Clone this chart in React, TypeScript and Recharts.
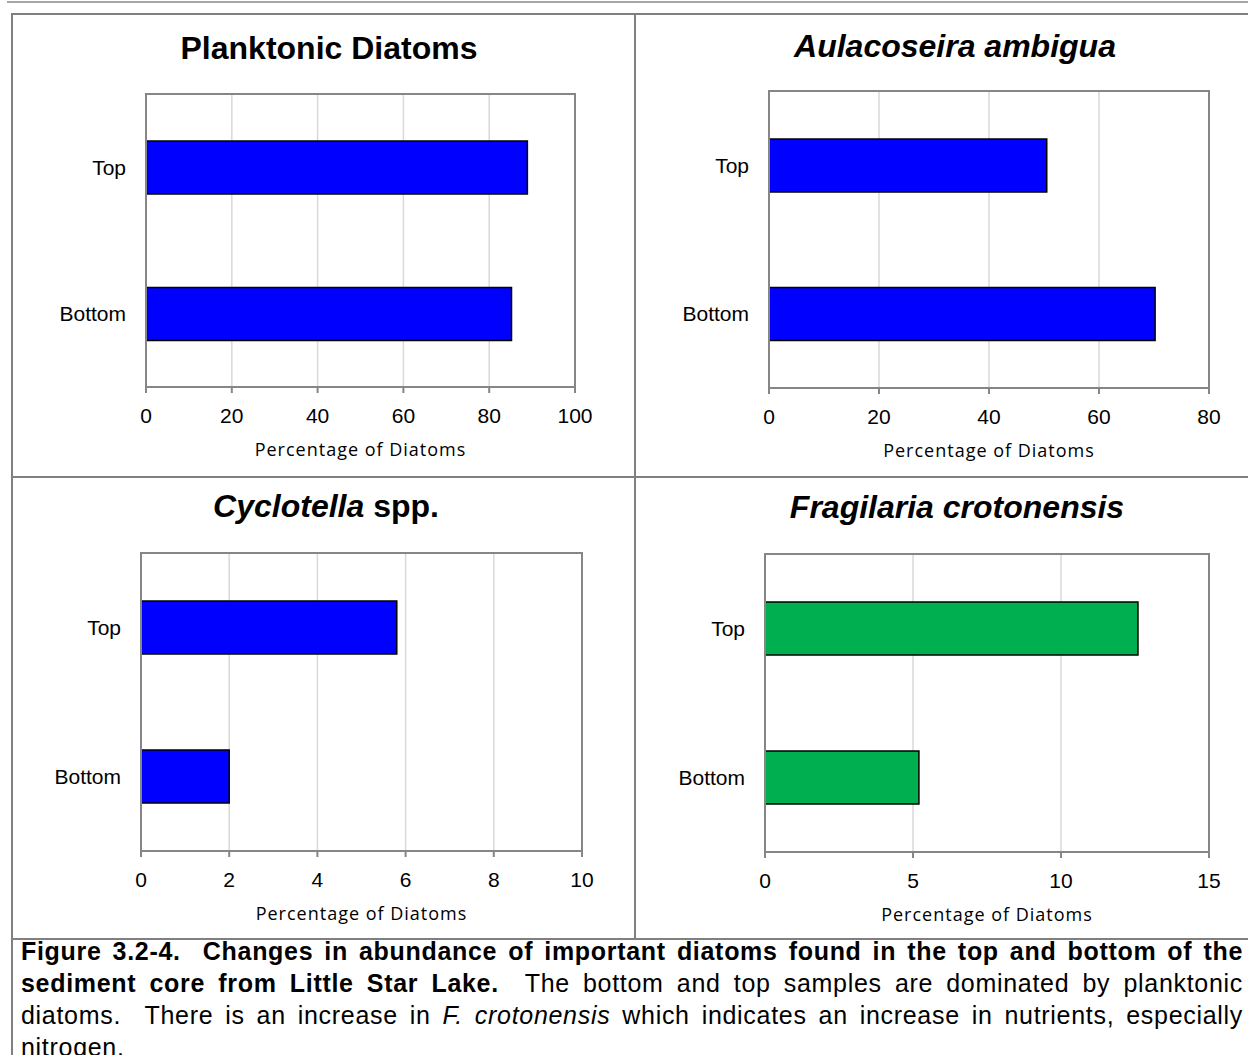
import React from 'react';
import { BarChart, Bar, XAxis, YAxis, CartesianGrid, ReferenceArea } from 'recharts';

const categories = ['Top', 'Bottom'];

const planktonicValues = [88.9, 85.2];
const aulacoseiraValues = [50.5, 70.2];
const cyclotellaValues = [5.8, 2.0];
const fragilariaValues = [12.6, 5.2];

const planktonicTicks = [0, 20, 40, 60, 80, 100];
const aulacoseiraTicks = [0, 20, 40, 60, 80];
const cyclotellaTicks = [0, 2, 4, 6, 8, 10];
const fragilariaTicks = [0, 5, 10, 15];

const axisLabel = 'Percentage of Diatoms';

const ARIAL = '"Liberation Sans", Arial, sans-serif';
const CALIBRI = '"Open Sans", Lato, sans-serif';
const AXIS_GRAY = '#868686';
const GRID_GRAY = '#d9d9d9';
const BORDER = '#808080';

const Y_W = 100;
const X_H = 80;

interface Box { l: number; t: number; r: number; b: number }

interface PanelProps {
  cell: Box;
  plot: Box;
  values: number[];
  ticks: number[];
  color: string;
  title: React.ReactNode;
  titleX: number;
  titleY: number;
}

const Panel: React.FC<PanelProps> = ({ cell, plot, values, ticks, color, title, titleX, titleY }) => {
  const data = categories.map((cat, i) => ({ cat, value: values[i] }));
  const domain: [number, number] = [ticks[0], ticks[ticks.length - 1]];
  const width = cell.r - cell.l;
  const height = cell.b - cell.t;
  const margin = {
    top: plot.t - cell.t,
    right: cell.r - plot.r,
    bottom: cell.b - plot.b - X_H,
    left: plot.l - cell.l - Y_W,
  };
  return (
    <>
      <div style={{ position: 'absolute', left: cell.l, top: cell.t, width, height }}>
        <BarChart width={width} height={height} data={data} layout="vertical" margin={margin}>
          <CartesianGrid horizontal={false} stroke={GRID_GRAY} strokeWidth={1.5} />
          <XAxis
            type="number"
            domain={domain}
            ticks={ticks}
            interval={0}
            height={X_H}
            axisLine={{ stroke: AXIS_GRAY, strokeWidth: 2 }}
            tickLine={{ stroke: AXIS_GRAY, strokeWidth: 2 }}
            tickSize={6}
            tickMargin={15}
            tick={{ fill: '#000', fontSize: 21, fontFamily: ARIAL }}
            label={{
              value: axisLabel,
              position: 'insideBottom',
              offset: 11,
              fill: '#000',
              fontSize: 18,
              fontFamily: CALIBRI,
              letterSpacing: 1,
            }}
          />
          <YAxis
            type="category"
            dataKey="cat"
            width={Y_W}
            tickLine={false}
            tickSize={6}
            tickMargin={14}
            axisLine={{ stroke: AXIS_GRAY, strokeWidth: 2 }}
            tick={{ fill: '#000', fontSize: 21, fontFamily: ARIAL }}
          />
          <ReferenceArea
            x1={domain[0]}
            x2={domain[1]}
            y1={categories[0]}
            y2={categories[categories.length - 1]}
            fill="none"
            fillOpacity={0}
            stroke={AXIS_GRAY}
            strokeWidth={2}
            ifOverflow="visible"
          />
          <Bar dataKey="value" fill={color} stroke="#000" strokeWidth={1.5} barSize={53} isAnimationActive={false} />
        </BarChart>
      </div>
      <div
        style={{
          position: 'absolute',
          left: titleX - 300,
          width: 600,
          top: titleY - 20,
          height: 40,
          lineHeight: '40px',
          textAlign: 'center',
          fontFamily: ARIAL,
          fontWeight: 'bold',
          fontSize: 32,
          color: '#000',
          whiteSpace: 'nowrap',
        }}
      >
        {title}
      </div>
    </>
  );
};

const line = (l: number, t: number, w: number, h: number, c: string) => (
  <div style={{ position: 'absolute', left: l, top: t, width: w, height: h, background: c }} />
);

const justified: React.CSSProperties = { textAlign: 'justify', textAlignLast: 'justify', whiteSpace: 'nowrap' };

export default function App() {
  return (
    <div
      style={{
        position: 'absolute',
        left: 0,
        top: 0,
        width: 1248,
        height: 1055,
        background: '#fff',
        overflow: 'hidden',
      }}
    >
      {line(7, 1, 1241, 2, '#a6a6a6')}
      {line(11, 13, 1237, 2, BORDER)}
      {line(11, 13, 2, 1042, BORDER)}
      {line(634, 13, 2, 926, BORDER)}
      {line(11, 476, 1237, 2, BORDER)}
      {line(11, 938, 1237, 2, BORDER)}

      <Panel
        cell={{ l: 13, t: 15, r: 634, b: 476 }}
        plot={{ l: 146, t: 94, r: 575, b: 387 }}
        values={planktonicValues}
        ticks={planktonicTicks}
        color="#0000ff"
        title="Planktonic Diatoms"
        titleX={329}
        titleY={48}
      />
      <Panel
        cell={{ l: 636, t: 15, r: 1248, b: 476 }}
        plot={{ l: 769, t: 91, r: 1209, b: 388 }}
        values={aulacoseiraValues}
        ticks={aulacoseiraTicks}
        color="#0000ff"
        title={<i>Aulacoseira ambigua</i>}
        titleX={955}
        titleY={46}
      />
      <Panel
        cell={{ l: 13, t: 478, r: 634, b: 938 }}
        plot={{ l: 141, t: 553, r: 582, b: 851 }}
        values={cyclotellaValues}
        ticks={cyclotellaTicks}
        color="#0000ff"
        title={<><i>Cyclotella</i> spp.</>}
        titleX={326}
        titleY={506}
      />
      <Panel
        cell={{ l: 636, t: 478, r: 1248, b: 938 }}
        plot={{ l: 765, t: 554, r: 1209, b: 852 }}
        values={fragilariaValues}
        ticks={fragilariaTicks}
        color="#00b050"
        title={<i>Fragilaria crotonensis</i>}
        titleX={957}
        titleY={507}
      />

      <div
        style={{
          position: 'absolute',
          left: 21,
          top: 935,
          width: 1222,
          fontFamily: ARIAL,
          fontSize: 25,
          lineHeight: '32px',
          letterSpacing: 0.7,
          color: '#000',
        }}
      >
        <div style={justified}>
          <b>Figure 3.2-4.&nbsp; Changes in abundance of important diatoms found in the top and bottom of the</b>
        </div>
        <div style={justified}>
          <b>sediment core from Little Star Lake.</b>&nbsp; The bottom and top samples are dominated by planktonic
        </div>
        <div style={justified}>
          diatoms.&nbsp; There is an increase in <i>F. crotonensis</i> which indicates an increase in nutrients, especially
        </div>
        <div>nitrogen.</div>
      </div>
    </div>
  );
}
